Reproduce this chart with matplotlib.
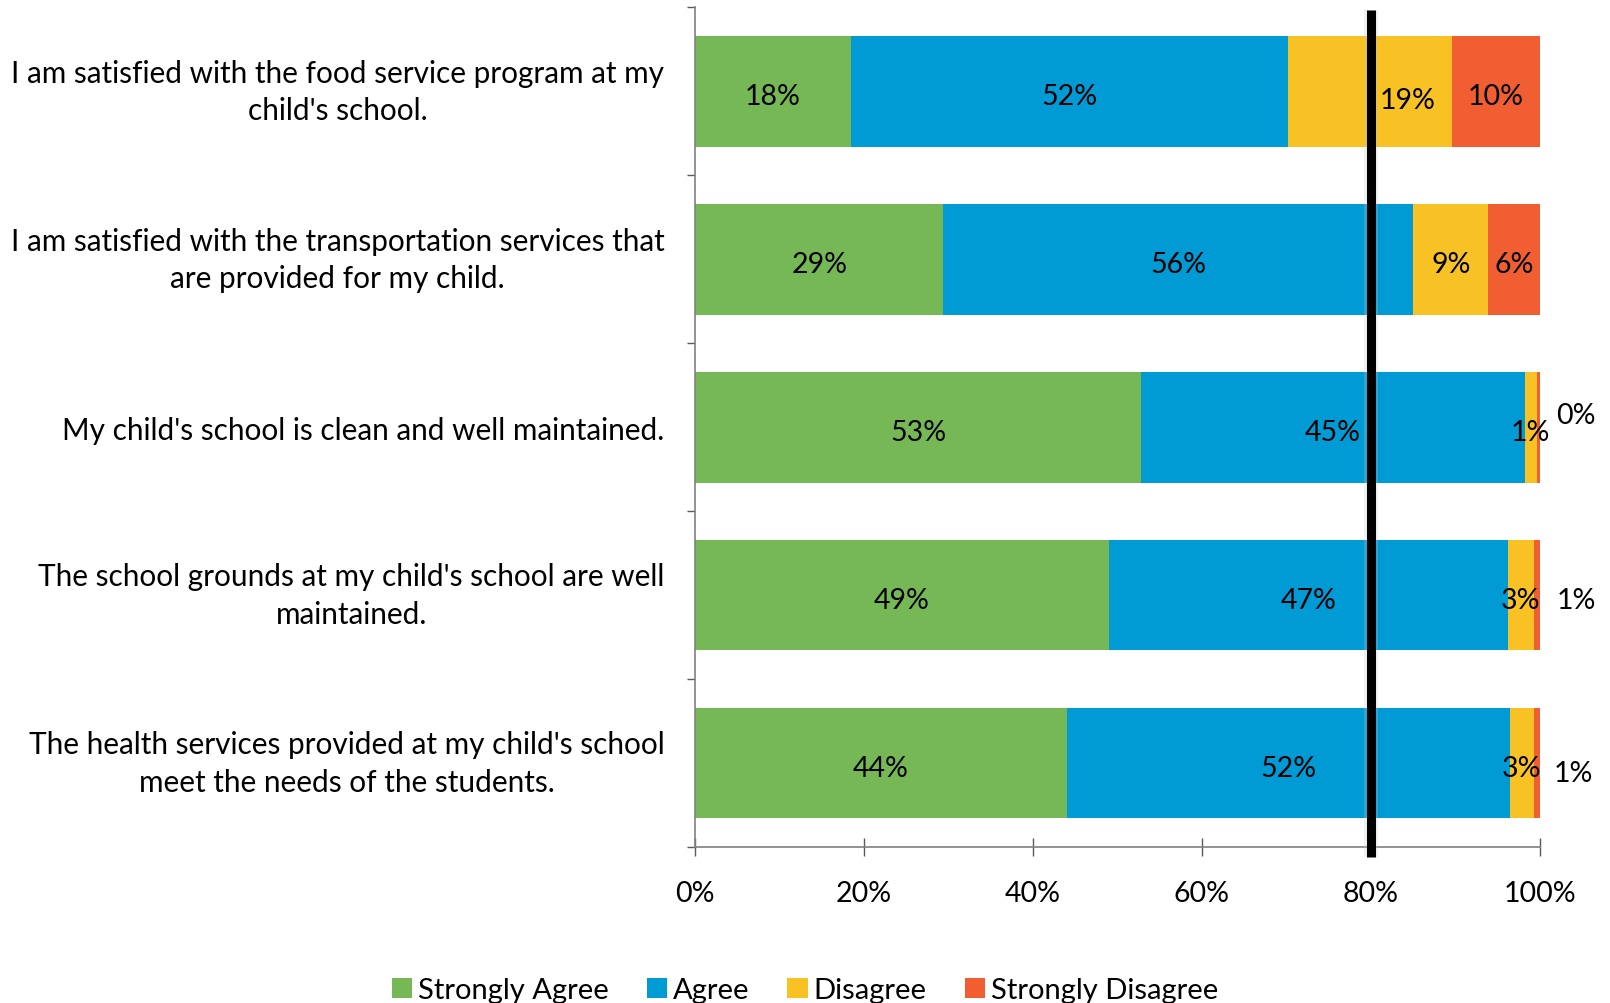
import matplotlib
matplotlib.use("Agg")
import matplotlib.pyplot as plt
import matplotlib.patheffects as pe
from matplotlib.patches import Patch
import numpy as np

plt.rcParams['font.family'] = ['Lato', 'DejaVu Sans']

categories = [
    "I am satisfied with the food service program at my\nchild's school.",
    "I am satisfied with the transportation services that\nare provided for my child.",
    "My child's school is clean and well maintained.",
    "The school grounds at my child's school are well\nmaintained.",
    "The health services provided at my child's school\nmeet the needs of the students.",
]
series_names = ["Strongly Agree", "Agree", "Disagree", "Strongly Disagree"]
strongly_agree = [18.4, 29.4, 52.8, 49.0, 44.0]
agree = [51.8, 55.6, 45.4, 47.2, 52.4]
disagree = [19.4, 8.9, 1.4, 3.1, 2.9]
strongly_disagree = [10.4, 6.1, 0.4, 0.7, 0.7]
x_ticks = [0, 20, 40, 60, 80, 100]
x_tick_labels = ["0%", "20%", "40%", "60%", "80%", "100%"]
target = 80

colors = ["#76B856", "#009BD4", "#F8C124", "#F05E32"]

fig = plt.figure(figsize=(16.1, 10.04), dpi=100)
ax = fig.add_axes([0.4317, 0.1554, 0.9565 - 0.4317, 0.9918 - 0.1554])

data = [strongly_agree, agree, disagree, strongly_disagree]
y = np.arange(len(categories))
left = np.zeros(len(categories))
base_dy = -3.5
# label offsets (points) for specific labels: (series, row) -> (dx, dy)
offsets = {
    (2, 0): (27, -3),
    (3, 2): (26, 12),
    (3, 3): (26, 0),
    (3, 4): (24, -4),
}
for si, vals in enumerate(data):
    vals = np.array(vals)
    ax.barh(y, vals, left=left, height=0.66, color=colors[si], edgecolor='none')
    for ri, v in enumerate(vals):
        cx = left[ri] + v / 2
        dx, dy = 0, 0
        if (si, ri) in offsets:
            dx, dy = offsets[(si, ri)]
            if si == 3:
                cx = left[ri] + v
        ax.annotate(f"{v:.0f}%", xy=(cx, ri), xytext=(dx, dy + base_dy), textcoords='offset points',
                    ha='center', va='center', fontsize=20.5, color='black',
                    annotation_clip=False)
    left = left + vals

ax.set_xlim(0, 100)
ax.set_ylim(len(categories) - 0.5, -0.5)

glow = [pe.Stroke(linewidth=10, foreground='#c8c8c8', alpha=0.25),
        pe.Normal()]
ax.axvline(target, ymin=-0.012, ymax=0.9964, color='black', lw=6.5, clip_on=False, zorder=5,
           solid_capstyle='butt', path_effects=glow)

ax.set_xticks(x_ticks)
ax.set_xticklabels(x_tick_labels, fontsize=20.5)
ax.set_yticks(np.arange(-0.5, len(categories), 1.0))
ax.set_yticklabels([])
ax.set_yticks(y, minor=True)
ax.set_yticklabels(categories, minor=True, fontsize=21.4, multialignment='center', linespacing=1.4)
ax.tick_params(axis='y', which='minor', length=0, pad=22)
ax.tick_params(axis='y', which='major', length=6, direction='out', color='#595959', width=1)
ax.tick_params(axis='x', direction='inout', length=13, color='#595959', width=1, pad=17)
for lab in ax.get_yticklabels(minor=True):
    if "\n" in lab.get_text():
        lab.set_va('center')

for s in ['top', 'right']:
    ax.spines[s].set_visible(False)
for s in ['left', 'bottom']:
    ax.spines[s].set_color('#808080')
    ax.spines[s].set_linewidth(1.2)

handles = [Patch(facecolor=c, edgecolor='none') for c in colors]
fig.legend(handles, series_names, loc='center', bbox_to_anchor=(0.5, 0.0125), ncol=4,
           frameon=False, fontsize=21, handlelength=0.7, handleheight=0.7,
           handletextpad=0.2, columnspacing=1.3)

fig.savefig("out.png", dpi=100)
